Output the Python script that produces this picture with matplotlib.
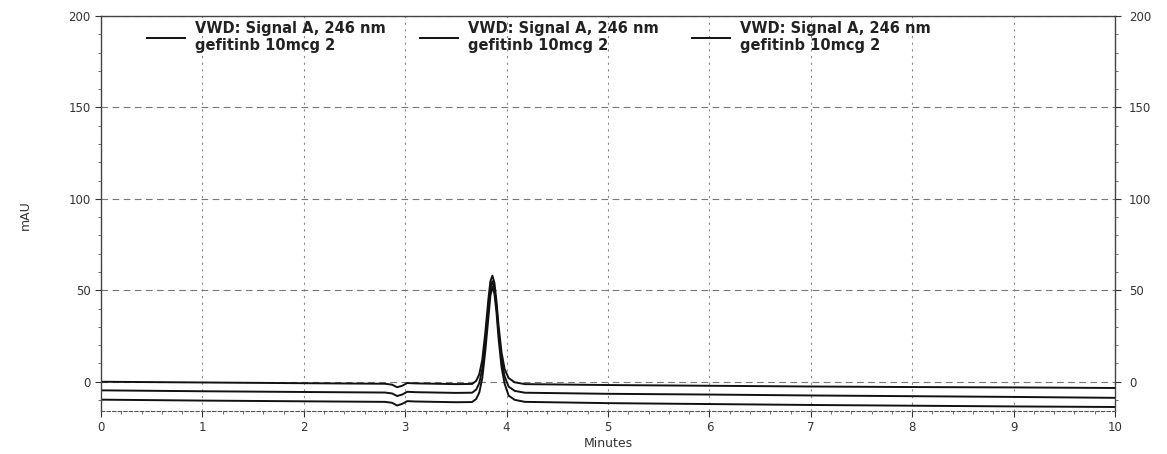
import matplotlib
matplotlib.use("Agg")
import matplotlib.pyplot as plt
from matplotlib.ticker import MultipleLocator

# ---- data ----
time_min = [0, 1, 2, 2.8, 2.87, 2.92, 2.97, 3.02, 3.1, 3.5, 3.66, 3.70, 3.73, 3.76,
            3.79, 3.82, 3.84, 3.86, 3.88, 3.90, 3.92, 3.95, 3.98, 4.02, 4.08, 4.18,
            5, 6, 7, 8, 9, 10]
trace_1 = [0.0, -0.4, -0.8, -1.1, -1.6, -3.0, -2.2, -0.7, -0.9, -1.3, -1.2, 0.5, 4, 12,
           27, 45, 55, 58, 54, 44, 31, 16, 7, 2.0, -0.3, -1.3,
           -1.8, -2.2, -2.6, -2.9, -3.1, -3.4]
trace_2 = [-4.7, -5.2, -5.6, -5.9, -6.4, -7.8, -7.0, -5.5, -5.7, -6.1, -6.0, -4.3, -0.8, 7,
           22, 40, 51, 55, 51, 41, 28, 12, 3, -2.7, -5.0, -6.0,
           -6.6, -7.0, -7.5, -7.9, -8.3, -8.8]
trace_3 = [-9.8, -10.3, -10.7, -11.0, -11.5, -13.0, -12.1, -10.6, -10.8, -11.2, -11.1, -9.4, -6, 2,
           17, 35, 47, 52, 48, 38, 24, 8, -1, -7.6, -9.9, -11.0,
           -11.7, -12.2, -12.7, -13.1, -13.5, -13.8]
traces = [trace_1, trace_2, trace_3]
legend_label = "VWD: Signal A, 246 nm\ngefitinb 10mcg 2"

x_ticks = list(range(0, 11))
y_ticks = [0, 50, 100, 150, 200]

plt.rcParams['font.family'] = ['DejaVu Sans']

fig = plt.figure(figsize=(11.67, 4.54), dpi=100)
ax = fig.add_axes([0.0866, 0.0947, 0.8688, 0.8701])

handles = []
for tr in traces:
    h, = ax.plot(time_min, tr, color='#111111', lw=1.4)
    handles.append(h)

ax.set_xlim(0, 10)
ax.set_ylim(-16, 200)
ax.set_xticks(x_ticks)
ax.set_yticks(y_ticks)
ax.xaxis.set_minor_locator(MultipleLocator(0.2))
ax.yaxis.set_minor_locator(MultipleLocator(10))

ax.grid(True, which='major', axis='y', linestyle=(0, (6, 4)), color='#777777', lw=0.8)
ax.grid(True, which='major', axis='x', linestyle=(0, (2, 4)), color='#888888', lw=0.8)

for s in ['left', 'right', 'top']:
    ax.spines[s].set_color('#444444')
    ax.spines[s].set_linewidth(1.0)
ax.spines['bottom'].set_linestyle((0, (3, 2)))
ax.spines['bottom'].set_color('#555555')

ax.tick_params(axis='both', which='major', labelsize=8.5, colors='#333333', length=4)
ax.tick_params(axis='both', which='minor', length=2, colors='#555555')

ax2 = ax.twinx()
ax2.set_ylim(ax.get_ylim())
ax2.set_yticks(y_ticks)
ax2.yaxis.set_minor_locator(MultipleLocator(10))
ax2.tick_params(axis='y', which='major', labelsize=8.5, colors='#333333', length=4, pad=6)
ax2.tick_params(axis='y', which='minor', length=2, colors='#555555')
for s in ax2.spines.values():
    s.set_visible(False)

ax.set_xlabel("Minutes", fontsize=9, color='#333333', labelpad=2)
ax.set_ylabel("mAU", fontsize=9, color='#333333')
ax.yaxis.set_label_coords(-0.068, 0.496)

leg = ax.legend(handles, [legend_label] * 3, ncol=3, frameon=False,
                loc='upper left', bbox_to_anchor=(0.115, 0.982), bbox_transform=fig.transFigure,
                prop={'size': 10.5, 'weight': 'bold'}, handlelength=2.6, handletextpad=0.7,
                columnspacing=2.3, labelspacing=0.2)
for t in leg.get_texts():
    t.set_color('#222222')
    t.set_linespacing(1.15)

fig.savefig("out.png", dpi=100)
